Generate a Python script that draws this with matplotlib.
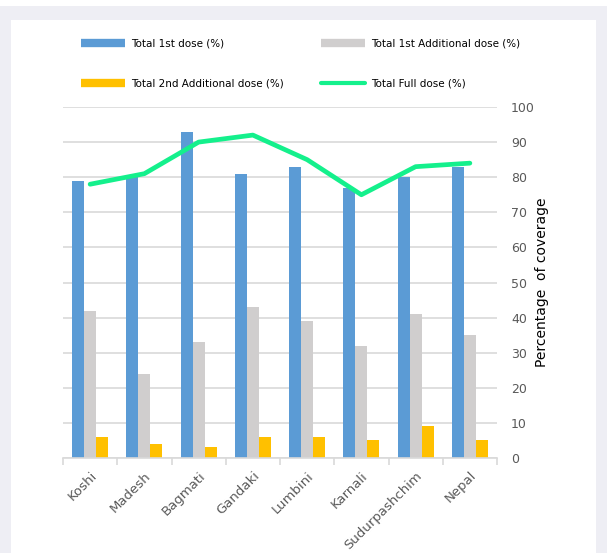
import numpy as np
import matplotlib
matplotlib.use("Agg")
import matplotlib.pyplot as plt
from matplotlib.lines import Line2D
from matplotlib.patches import Rectangle

provinces = ['Koshi', 'Madesh', 'Bagmati', 'Gandaki', 'Lumbini', 'Karnali', 'Sudurpashchim', 'Nepal']
first_dose = [79, 80, 93, 81, 83, 77, 80, 83]
first_additional = [42, 24, 33, 43, 39, 32, 41, 35]
second_additional = [6, 4, 3, 6, 6, 5, 9, 5]
full_dose = [78, 81, 90, 92, 85, 75, 83, 84]

BLUE = '#5B9BD5'
GREY = '#D0CECE'
YELLOW = '#FFC000'
GREEN = '#14F08C'
TXT = '#595959'

W, H = 607, 553
fig = plt.figure(figsize=(W / 100, H / 100), dpi=100, facecolor='#EEEEF4')
# white panel and white strip at top
fig.add_artist(Rectangle((11 / W, 0), (596 - 11) / W, (H - 20) / H, transform=fig.transFigure,
                         facecolor='white', edgecolor='none', zorder=0))
fig.add_artist(Rectangle((0, (H - 6) / H), 1, 6 / H, transform=fig.transFigure,
                         facecolor='white', edgecolor='none', zorder=0))

ax = fig.add_axes([63 / W, 95 / H, 434 / W, 351 / H])
ax.set_facecolor('none')

x = np.arange(len(provinces))
bw = 0.22
ax.bar(x - bw, first_dose, bw, color=BLUE, zorder=2)
ax.bar(x, first_additional, bw, color=GREY, zorder=2)
ax.bar(x + bw, second_additional, bw, color=YELLOW, zorder=2)
ax.plot(x, full_dose, color=GREEN, lw=3.4, solid_capstyle='round', zorder=3)

ax.set_xlim(-0.5, len(provinces) - 0.5)
ax.set_ylim(0, 100)
ax.set_yticks(np.arange(0, 101, 10))
ax.yaxis.tick_right()
ax.yaxis.set_label_position('right')
ax.tick_params(axis='y', length=0, pad=10, labelsize=9, labelcolor=TXT)
ax.grid(axis='y', color='#D9D9D9', lw=1.2, zorder=0)
ax.set_axisbelow(True)

ax.set_xticks(x)
ax.set_xticklabels(provinces, rotation=45, ha='right', rotation_mode='anchor',
                   fontsize=9.5, color=TXT)
ax.tick_params(axis='x', which='major', length=0, pad=8)
ax.set_xticks(np.arange(-0.5, len(provinces), 1), minor=True)
ax.tick_params(axis='x', which='minor', length=5, color='#D9D9D9', width=1.2)

for s in ['top', 'left', 'right']:
    ax.spines[s].set_visible(False)
ax.spines['bottom'].set_color('#D9D9D9')
ax.spines['bottom'].set_linewidth(1.2)

ax.set_ylabel('Percentage  of coverage', fontsize=10, labelpad=0, color='black')

handles = [
    Line2D([], [], color=BLUE, lw=6, solid_capstyle='butt'),
    Line2D([], [], color=YELLOW, lw=6, solid_capstyle='butt'),
    Line2D([], [], color=GREY, lw=6, solid_capstyle='butt'),
    Line2D([], [], color=GREEN, lw=3, solid_capstyle='round'),
]
labels = ['Total 1st dose (%)', 'Total 2nd Additional dose (%)',
          'Total 1st Additional dose (%)', 'Total Full dose (%)']
fig.legend(handles, labels, ncol=2, loc='upper left', bbox_to_anchor=(81 / W, 1 - 39 / H),
           frameon=False, fontsize=7.5, handlelength=4.2, handletextpad=0.6,
           labelspacing=2.8, columnspacing=3.6, borderpad=0, borderaxespad=0,
           labelcolor='black')

fig.savefig('out.png', dpi=100, facecolor=fig.get_facecolor())
